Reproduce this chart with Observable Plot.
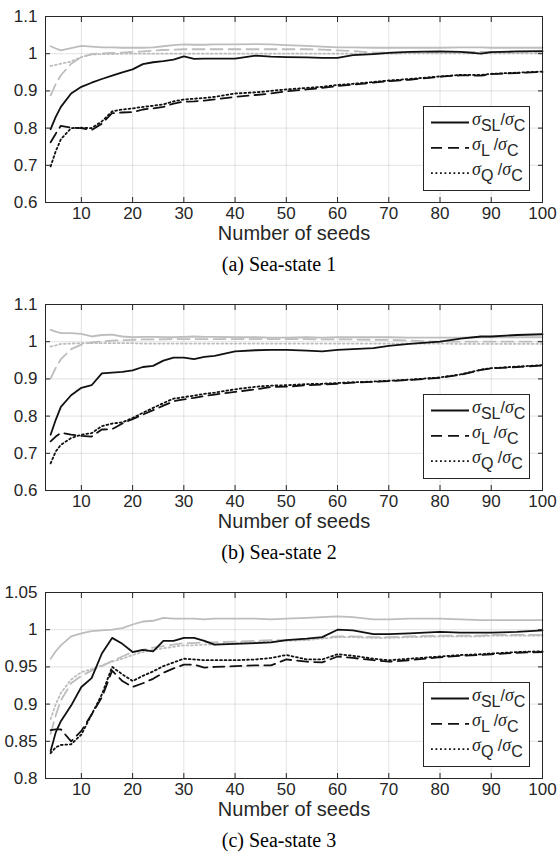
<!DOCTYPE html>
<html><head><meta charset="utf-8">
<script src="https://cdn.jsdelivr.net/npm/d3@7"></script>
<script src="https://cdn.jsdelivr.net/npm/@observablehq/plot@0.6"></script>
<style>
body{margin:0;background:#fff;width:558px;}
.panel{position:relative;width:558px;height:288px;}
.caption{position:absolute;left:0;top:240px;width:558px;height:48px;line-height:48px;text-align:center;font-family:"Liberation Serif","Times New Roman",serif;font-size:20px;color:#000;}
.legend{position:absolute;left:423px;top:106px;}
</style></head><body><div id="root"></div>
<script>
const seeds = [4,5,6,8,10,12,14,16,18,20,22,24,26,28,30,32,34,36,40,44,47,50,54,57,60,63,67,70,74,80,84,88,90,95,100];
const xTicks = [10,20,30,40,50,60,70,80,90,100];
const yTicks12 = [0.6,0.7,0.8,0.9,1,1.1];
const yTicks3 = [0.8,0.85,0.9,0.95,1,1.05];
const captions = ["(a) Sea-state 1","(b) Sea-state 2","(c) Sea-state 3"];
const xLabel = "Number of seeds";

// Sea-state 1
const ss1SL = [0.797,0.830,0.857,0.893,0.911,0.922,0.932,0.941,0.950,0.958,0.972,0.977,0.980,0.984,0.993,0.986,0.987,0.987,0.987,0.995,0.992,0.991,0.990,0.989,0.989,0.996,0.999,1.002,1.005,1.006,1.005,1.000,1.004,1.006,1.007];
const ss1L = [0.762,0.785,0.806,0.801,0.800,0.795,0.812,0.840,0.842,0.843,0.850,0.853,0.857,0.866,0.871,0.872,0.874,0.877,0.884,0.889,0.893,0.899,0.904,0.908,0.913,0.917,0.922,0.926,0.930,0.938,0.942,0.941,0.945,0.948,0.951];
const ss1Q = [0.697,0.738,0.770,0.800,0.801,0.800,0.818,0.845,0.850,0.853,0.857,0.860,0.864,0.872,0.877,0.879,0.881,0.884,0.893,0.896,0.900,0.904,0.908,0.911,0.916,0.919,0.924,0.928,0.932,0.939,0.943,0.943,0.946,0.949,0.952];
const ss1GreySL = [1.020,1.014,1.009,1.015,1.021,1.019,1.017,1.017,1.016,1.016,1.016,1.017,1.020,1.023,1.025,1.024,1.024,1.025,1.025,1.026,1.025,1.023,1.021,1.019,1.017,1.017,1.016,1.016,1.016,1.016,1.017,1.017,1.016,1.016,1.016];
const ss1GreyL = [0.888,0.918,0.942,0.973,0.991,0.999,1.001,1.002,1.003,1.005,1.006,1.008,1.010,1.011,1.012,1.012,1.012,1.012,1.012,1.012,1.012,1.012,1.012,1.011,1.009,1.007,1.003,1.003,1.004,1.005,1.005,1.005,1.005,1.005,1.005];
const ss1GreyQ = [0.967,0.970,0.973,0.979,0.991,0.998,0.999,0.999,1.000,1.000,1.000,1.000,1.000,1.000,1.000,1.000,1.000,1.000,1.000,1.000,1.000,1.000,1.000,1.000,1.000,1.000,1.000,1.000,1.001,1.001,1.001,1.001,1.001,1.001,1.001];

// Sea-state 2
const ss2SL = [0.750,0.790,0.825,0.856,0.876,0.883,0.915,0.917,0.919,0.923,0.932,0.935,0.949,0.957,0.957,0.953,0.959,0.962,0.974,0.977,0.978,0.978,0.976,0.974,0.978,0.980,0.983,0.989,0.994,1.000,1.008,1.014,1.014,1.018,1.020];
const ss2L = [0.732,0.745,0.755,0.750,0.747,0.745,0.764,0.765,0.780,0.792,0.804,0.816,0.828,0.840,0.845,0.849,0.854,0.858,0.865,0.872,0.878,0.879,0.883,0.885,0.887,0.890,0.892,0.894,0.897,0.903,0.911,0.924,0.928,0.932,0.936];
const ss2Q = [0.673,0.705,0.723,0.741,0.750,0.754,0.773,0.780,0.783,0.795,0.809,0.822,0.835,0.847,0.851,0.855,0.860,0.863,0.872,0.879,0.882,0.883,0.886,0.887,0.889,0.891,0.893,0.895,0.898,0.904,0.912,0.925,0.929,0.933,0.937];
const ss2GreySL = [1.032,1.027,1.023,1.023,1.021,1.014,1.018,1.019,1.014,1.012,1.013,1.013,1.012,1.012,1.013,1.014,1.013,1.013,1.012,1.012,1.011,1.011,1.012,1.011,1.012,1.012,1.012,1.012,1.011,1.011,1.011,1.012,1.012,1.012,1.012];
const ss2GreyL = [0.901,0.930,0.953,0.980,0.992,0.998,1.001,1.003,1.004,1.005,1.006,1.006,1.006,1.007,1.007,1.007,1.007,1.007,1.007,1.007,1.007,1.007,1.007,1.006,1.006,1.006,1.005,1.005,1.003,1.000,1.000,1.000,1.000,1.000,1.000];
const ss2GreyQ = [0.987,0.990,0.994,0.995,0.996,0.996,0.996,0.996,0.996,0.996,0.995,0.995,0.995,0.995,0.995,0.995,0.995,0.995,0.995,0.995,0.995,0.995,0.995,0.995,0.995,0.995,0.995,0.995,0.995,0.995,0.994,0.994,0.994,0.994,0.994];

// Sea-state 3
const ss3SL = [0.837,0.862,0.877,0.898,0.923,0.935,0.968,0.989,0.981,0.970,0.973,0.971,0.985,0.985,0.989,0.989,0.985,0.980,0.981,0.982,0.983,0.986,0.988,0.990,1.000,0.999,0.994,0.994,0.995,0.997,0.996,0.996,0.996,0.997,0.999];
const ss3L = [0.865,0.866,0.866,0.850,0.864,0.886,0.909,0.945,0.931,0.923,0.928,0.934,0.942,0.948,0.953,0.953,0.949,0.950,0.951,0.952,0.952,0.960,0.957,0.956,0.964,0.962,0.959,0.957,0.959,0.963,0.965,0.966,0.967,0.969,0.970];
const ss3Q = [0.834,0.842,0.845,0.846,0.859,0.886,0.913,0.950,0.940,0.931,0.938,0.944,0.951,0.956,0.961,0.960,0.959,0.959,0.959,0.960,0.962,0.966,0.960,0.960,0.967,0.965,0.961,0.959,0.961,0.964,0.966,0.967,0.968,0.970,0.971];
const ss3GreySL = [0.961,0.971,0.979,0.991,0.995,0.998,0.999,1.000,1.002,1.007,1.011,1.012,1.016,1.015,1.015,1.015,1.014,1.015,1.015,1.015,1.014,1.015,1.016,1.017,1.018,1.017,1.014,1.014,1.015,1.015,1.014,1.013,1.013,1.013,1.013];
const ss3GreyL = [0.860,0.885,0.905,0.928,0.938,0.945,0.951,0.958,0.964,0.970,0.973,0.976,0.978,0.980,0.982,0.982,0.983,0.983,0.984,0.985,0.986,0.986,0.987,0.989,0.991,0.991,0.990,0.990,0.991,0.992,0.992,0.992,0.993,0.993,0.993];
const ss3GreyQ = [0.880,0.900,0.915,0.933,0.943,0.947,0.952,0.957,0.961,0.966,0.970,0.973,0.975,0.977,0.979,0.979,0.980,0.980,0.982,0.983,0.984,0.985,0.986,0.988,0.990,0.990,0.989,0.989,0.990,0.991,0.991,0.991,0.992,0.992,0.992];

const DASH = "11,6", GDASH = "12,6", DOT = "1.8,2.7";
const legendItems = [
  {sub: "SL", gap: "", dash: null},
  {sub: "L", gap: " ", dash: DASH},
  {sub: "Q", gap: " ", dash: DOT}
];

const panels = [
  {caption: captions[0], yDomain: [0.6,1.1], yTicks: yTicks12, SL: ss1SL, L: ss1L, Q: ss1Q, gSL: ss1GreySL, gL: ss1GreyL, gQ: ss1GreyQ},
  {caption: captions[1], yDomain: [0.6,1.1], yTicks: yTicks12, SL: ss2SL, L: ss2L, Q: ss2Q, gSL: ss2GreySL, gL: ss2GreyL, gQ: ss2GreyQ},
  {caption: captions[2], yDomain: [0.8,1.05], yTicks: yTicks3, SL: ss3SL, L: ss3L, Q: ss3Q, gSL: ss3GreySL, gL: ss3GreyL, gQ: ss3GreyQ}
];

const BLACK = "#111111", GREY = "#bdbdbd", AX = "#262626";
const fmt = d3.format("~g");
const rows = arr => seeds.map((s, i) => ({x: s, y: arr[i]}));

function lineMark(arr, stroke, dash) {
  const o = {x: "x", y: "y", stroke, strokeWidth: 1.8};
  if (dash) o.strokeDasharray = dash;
  return Plot.line(rows(arr), o);
}

function makeLegend() {
  const ns = "http://www.w3.org/2000/svg";
  const svg = document.createElementNS(ns, "svg");
  svg.setAttribute("width", 107); svg.setAttribute("height", 85);
  svg.setAttribute("class", "legend");
  const rect = document.createElementNS(ns, "rect");
  rect.setAttribute("x", 0.5); rect.setAttribute("y", 0.5);
  rect.setAttribute("width", 106); rect.setAttribute("height", 84);
  rect.setAttribute("fill", "#fff"); rect.setAttribute("stroke", AX);
  svg.appendChild(rect);
  legendItems.forEach((it, i) => {
    const cy = 16.5 + i * 25.3;
    const ln = document.createElementNS(ns, "line");
    ln.setAttribute("x1", 8); ln.setAttribute("x2", 46);
    ln.setAttribute("y1", cy); ln.setAttribute("y2", cy);
    ln.setAttribute("stroke", BLACK); ln.setAttribute("stroke-width", 1.8);
    if (it.dash) ln.setAttribute("stroke-dasharray", it.dash);
    svg.appendChild(ln);
    const t = document.createElementNS(ns, "text");
    t.setAttribute("x", 49); t.setAttribute("y", cy + 2);
    t.setAttribute("fill", AX);
    t.setAttribute("font-family", "'Liberation Sans', Arial, sans-serif");
    t.setAttribute("font-size", 16);
    t.setAttribute("xml:space", "preserve");
    t.innerHTML =
      `<tspan font-family="'Liberation Serif', serif" font-style="italic" font-size="18">σ</tspan>` +
      `<tspan dy="6">${it.sub}${it.gap}</tspan>` +
      `<tspan dy="-6">/</tspan>` +
      `<tspan font-family="'Liberation Serif', serif" font-style="italic" font-size="18">σ</tspan>` +
      `<tspan dy="6">C</tspan>`;
    svg.appendChild(t);
  });
  return svg;
}

const root = document.getElementById("root");
for (const p of panels) {
  const div = document.createElement("div");
  div.className = "panel";
  const chart = Plot.plot({
    width: 558, height: 240,
    marginLeft: 45, marginRight: 16, marginTop: 16, marginBottom: 38,
    style: {fontFamily: "'Liberation Sans', Arial, sans-serif", fontSize: "17px", color: AX, background: "#fff", overflow: "visible"},
    x: {domain: [3, 100]},
    y: {domain: p.yDomain},
    marks: [
      Plot.gridX(xTicks, {stroke: AX, strokeOpacity: 0.13}),
      Plot.gridY(p.yTicks, {stroke: AX, strokeOpacity: 0.13}),
      lineMark(p.gSL, GREY, null),
      lineMark(p.gL, GREY, GDASH),
      lineMark(p.gQ, GREY, DOT),
      lineMark(p.SL, BLACK, null),
      lineMark(p.L, BLACK, DASH),
      lineMark(p.Q, BLACK, DOT),
      Plot.frame({stroke: AX}),
      Plot.axisX(xTicks, {anchor: "bottom", tickSize: -5, tickPadding: 9, label: null}),
      Plot.axisX(xTicks, {anchor: "top", tickSize: -5, tickFormat: () => "", label: null}),
      Plot.axisY(p.yTicks, {anchor: "left", tickSize: -5, tickPadding: 13, tickFormat: fmt, label: null}),
      Plot.axisY(p.yTicks, {anchor: "right", tickSize: -5, tickFormat: () => "", label: null}),
      Plot.text([xLabel], {text: d => d, frameAnchor: "bottom", dy: 37, fontSize: 20, fill: AX})
    ]
  });
  div.appendChild(chart);
  div.appendChild(makeLegend());
  const cap = document.createElement("div");
  cap.className = "caption";
  cap.textContent = p.caption;
  div.appendChild(cap);
  root.appendChild(div);
}
</script>
</body></html>
